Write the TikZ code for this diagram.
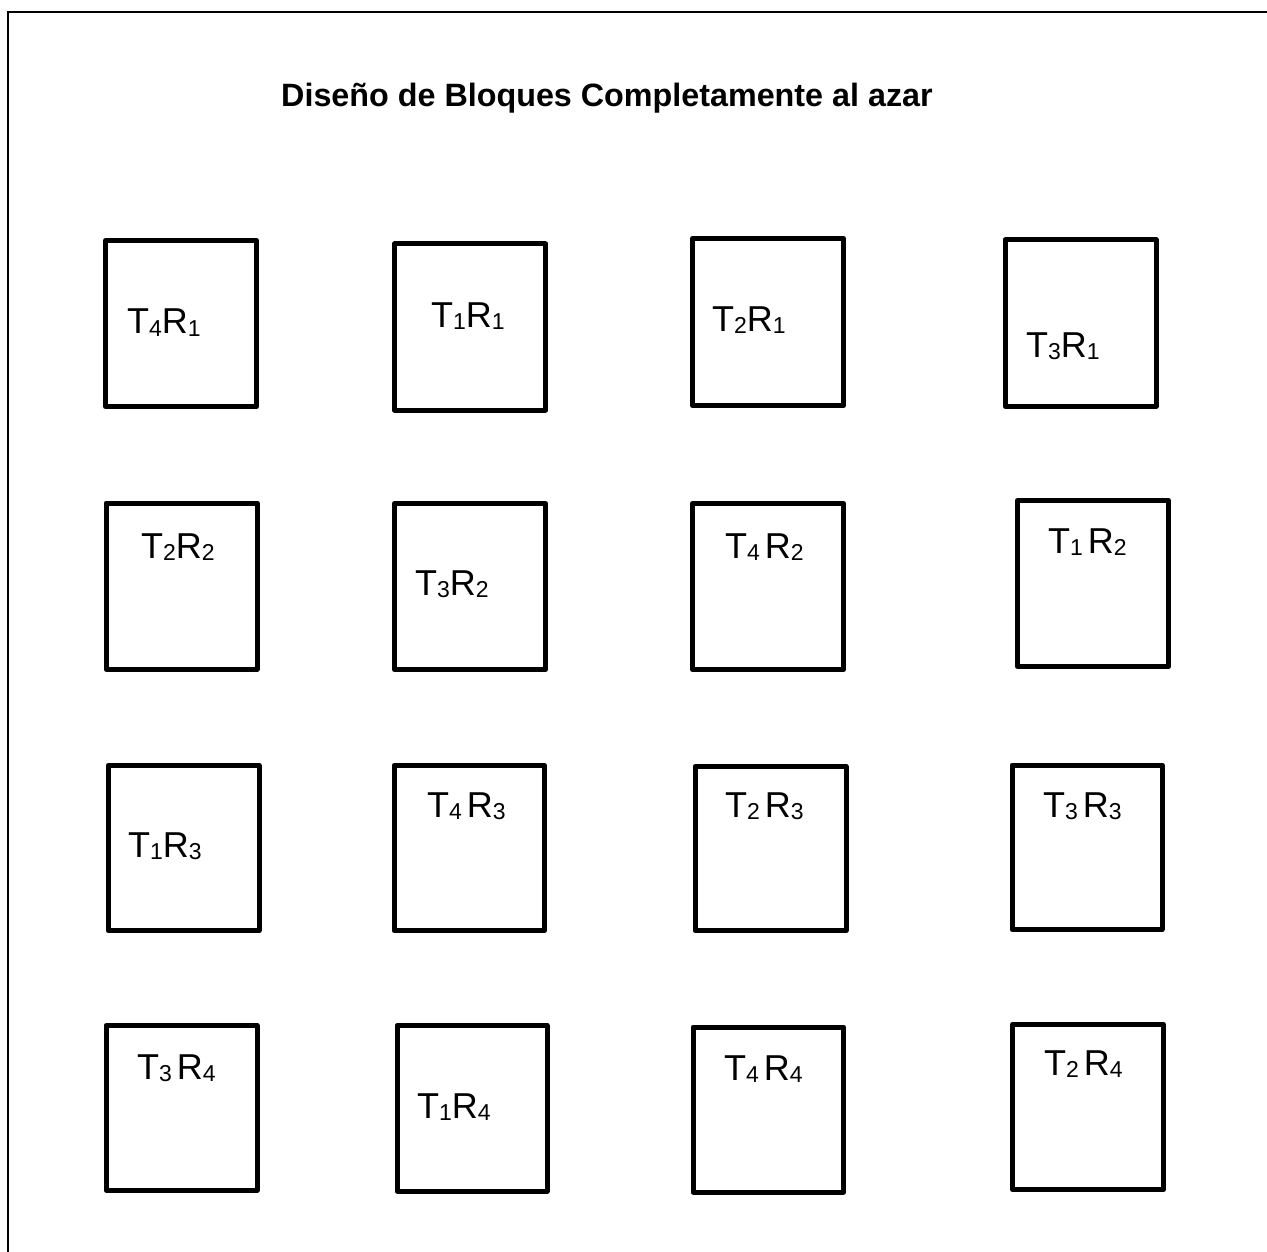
\documentclass[tikz,border=0pt]{standalone}
\usepackage{fontspec}
\setmainfont{Liberation Sans}
\newcommand\subd[1]{\raisebox{-2pt}{\fontsize{23}{23}\selectfont #1}}
\newcommand\TRl[2]{T\subd{#1}R\subd{#2}}
\newcommand\TRs[2]{T\subd{#1}\hspace{5pt}R\subd{#2}}
\begin{document}
\begin{tikzpicture}[x=1pt,y=-1pt,
  boxline/.style={draw=black,line width=5pt,line join=round},
  frameline/.style={draw=black,line width=2pt},
  lab/.style={anchor=base west,inner sep=0pt,font=\fontsize{36}{40}\selectfont},
  ttl/.style={anchor=base west,inner sep=0pt,font=\fontsize{32.3}{38}\selectfont\bfseries}]
\useasboundingbox[fill=white] (0,0) rectangle (1267,1252);
% outer frame
\coordinate (fbl) at (7.5,1252);
\coordinate (ftl) at (7.5,12);
\coordinate (ftr) at (1267,12);
\draw[frameline] (fbl) -- (ftl) -- (ftr);
% title
\node[ttl] (title) at (281,107) {Diseño de Bloques Completamente al azar};
% row 1
\draw[boxline] (105.5,240.5) rectangle (256.5,406.5);
\node[lab] (l41) at (127,334) {\TRl{4}{1}};
\draw[boxline] (394.5,244) rectangle (545.5,410);
\node[lab] (l11) at (431,327) {\TRl{1}{1}};
\draw[boxline] (692.5,238.5) rectangle (843.5,405.5);
\node[lab] (l21) at (712,331) {\TRl{2}{1}};
\draw[boxline] (1005,240) rectangle (1156,406);
\node[lab] (l31) at (1026,357) {\TRl{3}{1}};
% row 2
\draw[boxline] (106,503) rectangle (257,669);
\node[lab] (l22) at (141,558) {\TRl{2}{2}};
\draw[boxline] (394.5,503.5) rectangle (545.5,669.5);
\node[lab] (l32) at (415,595) {\TRl{3}{2}};
\draw[boxline] (692.5,503.5) rectangle (843.5,669.5);
\node[lab] (l42) at (725,558) {\TRs{4}{2}};
\draw[boxline] (1017.5,500.5) rectangle (1168.5,666.5);
\node[lab] (l12) at (1048,553) {\TRs{1}{2}};
% row 3
\draw[boxline] (108,765.5) rectangle (259,930.5);
\node[lab] (l13) at (128,857) {\TRl{1}{3}};
\draw[boxline] (394,765.5) rectangle (544.5,930.5);
\node[lab] (l43) at (427,817) {\TRs{4}{3}};
\draw[boxline] (695,766.5) rectangle (846,930.5);
\node[lab] (l23) at (725,817) {\TRs{2}{3}};
\draw[boxline] (1012,765) rectangle (1162,929.5);
\node[lab] (l33) at (1043,817) {\TRs{3}{3}};
% row 4
\draw[boxline] (106,1025.5) rectangle (257,1190);
\node[lab] (l34) at (137,1079) {\TRs{3}{4}};
\draw[boxline] (397,1025.5) rectangle (547,1191);
\node[lab] (l14) at (417,1118) {\TRl{1}{4}};
\draw[boxline] (693,1027) rectangle (843.5,1192);
\node[lab] (l44) at (724,1080) {\TRs{4}{4}};
\draw[boxline] (1012.5,1024.5) rectangle (1163.5,1189.5);
\node[lab] (l24) at (1044,1075) {\TRs{2}{4}};
\end{tikzpicture}
\end{document}
